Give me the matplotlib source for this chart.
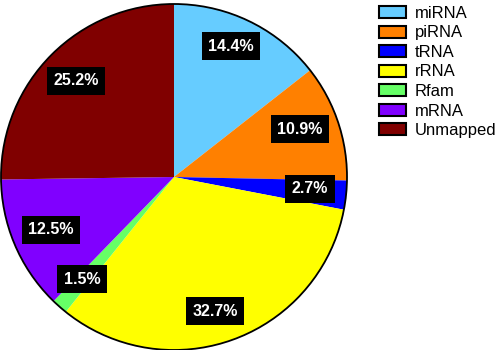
import matplotlib
matplotlib.use("Agg")
import matplotlib.pyplot as plt
from matplotlib.patches import Circle, Patch

plt.rcParams['font.family'] = ['Liberation Sans', 'DejaVu Sans']

categories = ["miRNA", "piRNA", "tRNA", "rRNA", "Rfam", "mRNA", "Unmapped"]
percentages = [14.4, 10.9, 2.7, 32.7, 1.5, 12.5, 25.2]
colors = ["#66CCFF", "#FF8000", "#0000FF", "#FFFF00", "#66FF66", "#8000FF", "#800000"]

# where each percentage box sits (pie radius = 1)
label_pos = [(0.33, 0.757), (0.728, 0.277), (0.786, -0.069), (0.237, -0.775),
             (-0.532, -0.59), (-0.711, -0.306), (-0.566, 0.555)]


def main():
    fig = plt.figure(figsize=(5, 3.5), dpi=100)
    ax = fig.add_axes([1 / 500, 0, 346 / 500, 346 / 350])

    wedges, _ = ax.pie(percentages, colors=colors, startangle=90, counterclock=False,
                       radius=1, wedgeprops=dict(linewidth=0))
    for w in wedges:
        w.set_clip_on(False)
    ax.add_patch(Circle((0, 0), 1, fill=False, edgecolor="black", linewidth=1.3, clip_on=False))

    for pct, (x, y) in zip(percentages, label_pos):
        ax.text(x, y, f"{pct}%", ha="center", va="center", color="white",
                fontsize=11.5, fontweight="bold",
                bbox=dict(boxstyle="square,pad=0.4", facecolor="black", edgecolor="none"))

    ax.set_xlim(-1, 1)
    ax.set_ylim(-1, 1)
    ax.set_aspect("equal")
    ax.axis("off")

    handles = [Patch(facecolor=c, edgecolor="black", linewidth=1.5) for c in colors]
    fig.legend(handles, categories, loc="upper left", bbox_to_anchor=(374 / 500, 1 - 1 / 350),
               frameon=False, fontsize=12, handlelength=1.6, handleheight=0.75,
               handletextpad=0.55, labelspacing=0.27, borderaxespad=0, borderpad=0.3)

    fig.savefig("out.png", dpi=100)
    plt.close(fig)


if __name__ == "__main__":
    main()
